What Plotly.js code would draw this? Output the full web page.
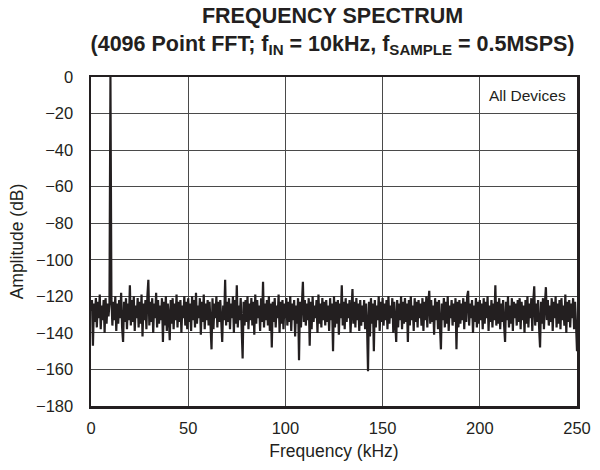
<!DOCTYPE html>
<html>
<head>
<meta charset="utf-8">
<script src="https://cdn.plot.ly/plotly-3.0.1.min.js"></script>
<style>html,body{margin:0;padding:0;background:#fff;}#chart{width:600px;height:470px;}</style>
</head>
<body>
<div id="chart"></div>
<script>
// FFT bin spacing (kHz) -- 0.5 kHz display resolution
const binStepKHz = 0.5;

// Amplitude (dB), one value per 0.5 kHz, 0 .. 250 kHz
const amplitudeDb = [
  -128,-122,-147,-124,-134,-121,-137,-123,-132,-119,-138,-125,-133,-122,-140,-121,-135,-124,-131,-124,
  0,-121,-136,-123,-133,-120,-139,-124,-135,-122,-132,-118,-137,-145,-123,-134,-121,-138,-124,-133,
  -114,-136,-122,-134,-120,-139,-125,-132,-121,-137,-123,-135,-119,-142,-124,-133,-122,-138,-120,-111,
  -136,-123,-134,-121,-140,-124,-132,-118,-137,-122,-135,-125,-133,-121,-145,-123,-136,-120,-139,-124,
  -131,-144,-122,-135,-121,-138,-124,-133,-119,-137,-123,-134,-122,-140,-125,-132,-120,-136,-123,-138,
  -121,-134,-124,-139,-120,-133,-122,-137,-118,-135,-125,-132,-121,-141,-123,-134,-119,-138,-124,-133,
  -122,-136,-123,-135,-149,-121,-138,-124,-132,-120,-137,-123,-134,-122,-139,-145,-125,-133,-111,-136,
  -123,-134,-121,-138,-124,-132,-120,-140,-122,-135,-114,-137,-125,-133,-121,-139,-154,-123,-136,-122,
  -134,-120,-138,-124,-133,-121,-136,-123,-141,-119,-135,-122,-132,-125,-139,-121,-134,-112,-137,-124,
  -133,-122,-136,-120,-139,-124,-148,-123,-134,-121,-137,-125,-132,-119,-140,-123,-135,-122,-138,-124,
  -132,-121,-136,-123,-134,-120,-139,-124,-133,-122,-142,-125,-135,-121,-155,-123,-137,-124,-112,-134,
  -122,-136,-124,-133,-121,-147,-123,-138,-120,-134,-125,-132,-122,-140,-119,-135,-124,-137,-121,-133,
  -123,-136,-122,-134,-125,-139,-121,-133,-124,-150,-120,-137,-123,-135,-122,-141,-124,-132,-114,-136,
  -123,-138,-121,-134,-124,-132,-122,-140,-125,-116,-135,-123,-137,-121,-133,-124,-139,-122,-136,-125,
  -134,-122,-138,-124,-136,-161,-123,-142,-121,-135,-124,-150,-122,-137,-125,-133,-120,-139,-123,-134,
  -121,-136,-124,-133,-122,-138,-120,-135,-125,-132,-121,-140,-123,-134,-145,-122,-137,-124,-133,-120,
  -138,-123,-135,-121,-134,-124,-145,-122,-136,-120,-133,-125,-139,-121,-134,-123,-137,-122,-132,-124,
  -136,-121,-139,-123,-133,-120,-137,-124,-117,-135,-122,-134,-125,-141,-121,-133,-123,-138,-122,-136,
  -149,-124,-133,-121,-137,-123,-135,-120,-139,-125,-132,-122,-136,-124,-134,-121,-149,-123,-137,-122,
  -135,-124,-133,-121,-138,-123,-134,-120,-117,-136,-124,-132,-122,-140,-125,-134,-121,-137,-123,-135,
  -122,-133,-124,-138,-121,-135,-123,-132,-120,-139,-125,-134,-122,-137,-124,-133,-114,-136,-123,-135,
  -121,-138,-124,-134,-122,-136,-145,-123,-133,-120,-137,-125,-135,-121,-139,-123,-132,-124,-136,-122,
  -134,-121,-138,-123,-133,-125,-140,-122,-135,-120,-137,-124,-132,-121,-139,-123,-114.5,-136,-124,-134,
  -122,-137,-148,-123,-135,-121,-138,-124,-115,-133,-122,-136,-125,-134,-121,-139,-123,-132,-120,-137,
  -124,-135,-122,-138,-121,-133,-125,-136,-119,-140,-123,-134,-122,-137,-124,-132,-121,-138,-123,-135,
  -150
];

const frequencyKHz = amplitudeDb.map((_, i) => i * binStepKHz);

const xTickVals = [0, 50, 100, 150, 200, 250];
const yTickVals = [0, -20, -40, -60, -80, -100, -120, -140, -160, -180];

const ink = '#231f20';
const font = 'Liberation Sans, Arial, Helvetica, sans-serif';

const trace = {
  x: frequencyKHz,
  y: amplitudeDb,
  type: 'scatter',
  mode: 'lines',
  line: {color: ink, width: 2.2},
  hoverinfo: 'skip'
};

const layout = {
  width: 600,
  height: 470,
  margin: {l: 91, r: 23, t: 77, b: 64},
  paper_bgcolor: '#fff',
  plot_bgcolor: '#fff',
  showlegend: false,
  font: {family: font, color: ink},
  title: {
    text: '<b>FREQUENCY SPECTRUM</b><br><b>(4096 Point FFT; f<sub>IN</sub> = 10kHz, f<sub>SAMPLE</sub> = 0.5MSPS)</b>',
    font: {family: font, size: 21.5, color: ink},
    x: 0.497, xref: 'paper', xanchor: 'center',
    y: 0.952, yref: 'container', yanchor: 'top'
  },
  xaxis: {
    range: [0, 250],
    tickvals: xTickVals,
    ticks: '',
    showgrid: true,
    gridcolor: '#4a4a4a',
    gridwidth: 1,
    zeroline: false,
    showline: true,
    linecolor: ink,
    linewidth: 2.5,
    mirror: true,
    tickfont: {family: font, size: 16.5, color: ink},
    ticklabelstandoff: 6,
    title: {text: 'Frequency (kHz)', font: {family: font, size: 17.5, color: ink}, standoff: 9},
    fixedrange: true
  },
  yaxis: {
    range: [-180, 0],
    tickvals: yTickVals,
    ticks: '',
    showgrid: true,
    gridcolor: '#4a4a4a',
    gridwidth: 1,
    zeroline: false,
    showline: true,
    linecolor: ink,
    linewidth: 2.5,
    mirror: true,
    tickfont: {family: font, size: 16.5, color: ink},
    ticklabelstandoff: 12,
    title: {text: 'Amplitude (dB)', font: {family: font, size: 17.5, color: ink}, standoff: 8},
    fixedrange: true
  },
  annotations: [{
    text: 'All Devices',
    xref: 'paper', yref: 'paper',
    x: 0.982, y: 0.977,
    xanchor: 'right', yanchor: 'top',
    showarrow: false,
    font: {family: font, size: 15.5, color: ink}
  }]
};

Plotly.newPlot('chart', [trace], layout, {displayModeBar: false, staticPlot: true});
</script>
</body>
</html>
